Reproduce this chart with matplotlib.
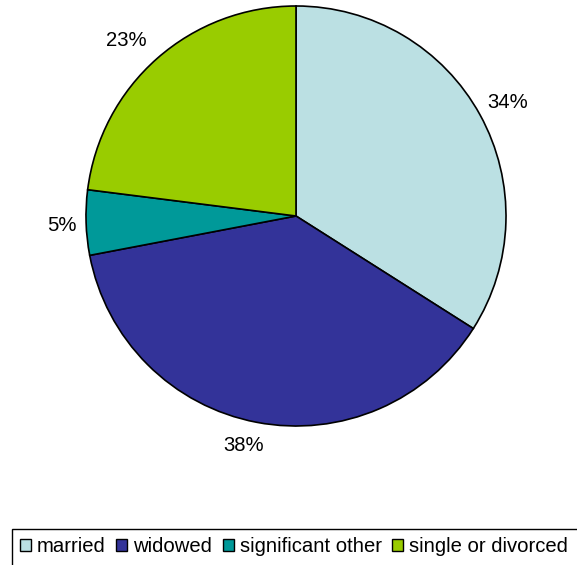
import matplotlib
matplotlib.use("Agg")
import matplotlib.pyplot as plt
import matplotlib.transforms as mtrans
from matplotlib.patches import Rectangle
import numpy as np

categories = ["married", "widowed", "significant other", "single or divorced"]
values = [34, 38, 5, 23]
labels = ["34%", "38%", "5%", "23%"]
colors = ["#BBE0E3", "#333399", "#009999", "#99CC00"]
label_dist = [1.148, 1.114, 1.115, 1.169]
label_ang_off = [-0.2, -2.05, 0.16, 2.4]

plt.rcParams['font.family'] = ['Liberation Sans', 'DejaVu Sans']

W, H = 577, 565
FS = 14.6
fig = plt.figure(figsize=(W / 100, H / 100), dpi=100)
cx, cy, r = 296, 216, 210
ax = fig.add_axes([(cx - r) / W, 1 - (cy + r) / H, 2 * r / W, 2 * r / H])
wedges, _ = ax.pie(values, colors=colors, startangle=90, counterclock=False,
                   wedgeprops=dict(edgecolor="black", linewidth=1.2))
ax.set_xlim(-1, 1)
ax.set_ylim(-1, 1)
ax.set_aspect("equal")
ax.axis("off")

tr = mtrans.offset_copy(ax.transData, fig=fig, y=-0.716 * FS / 2, units="points")
for w, lab, d, off in zip(wedges, labels, label_dist, label_ang_off):
    ang = np.deg2rad((w.theta1 + w.theta2) / 2 + off)
    ax.text(d * np.cos(ang), d * np.sin(ang), lab, ha="center", va="baseline",
            fontsize=FS, color="black", clip_on=False, transform=tr)

leg = fig.legend(wedges, categories, loc="upper left",
                 bbox_to_anchor=(12 / W, 1 - 529 / H), ncol=4,
                 fontsize=FS, frameon=False,
                 handlelength=0.53, handleheight=0.53, handletextpad=0.3,
                 columnspacing=0.53, borderpad=0.4, borderaxespad=0)
for h in leg.legend_handles:
    h.set_edgecolor("black")
    h.set_linewidth(1.0)

# legend frame runs past the right and bottom edges of the picture
fig.patches.append(Rectangle((12 / W, -0.1), 0.99, (1 - 529 / H) + 0.1,
                             transform=fig.transFigure, fill=False,
                             edgecolor="black", linewidth=1.0))

fig.savefig("out.png", dpi=100)
